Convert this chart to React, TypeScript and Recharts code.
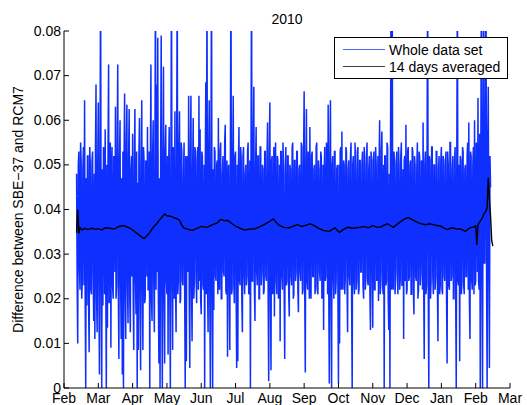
import { Legend, Line, LineChart, XAxis, YAxis } from 'recharts';

const FONT = '"Liberation Sans", Arial, Helvetica, sans-serif';
const BLUE = '#0f2fff';

// x is days after 1 Feb 2010; ticks every 30 days
const monthTicks = [0, 30, 60, 90, 120, 150, 180, 210, 240, 270, 300, 330, 360, 390];
const monthLabels = ['Feb', 'Mar', 'Apr', 'May', 'Jun', 'Jul', 'Aug', 'Sep', 'Oct', 'Nov', 'Dec', 'Jan', 'Feb', 'Mar'];
const diffTicks = [0, 0.01, 0.02, 0.03, 0.04, 0.05, 0.06, 0.07, 0.08];

const seriesNames = ['Whole data set', '14 days averaged'];

// SBE-37 minus RCM7 every half day, in thousandths, one array per tick interval
const febDiff = [48, 24, 10, 50, 53, 27, 22, 55, 51, 20, 24, 49, 54, 23, 64.5, 21, 0, 47, 18.5, 52, 52, 19, 8, 54, 50, 22, 21, 51, 53, 25, 15, 48, 11, 53, 68, 20, 12.5, 50];
const marDiff = [64, 22, 3, 51, 95, 24, 0, 49, 18.5, 54, 52, 21, 58, 25, 0, 50, 13.5, 53, 72.5, 19, 22, 55, 9, 48, 54, 23, 20, 52, 50, 26, 63, 20, 23, 54, 72.5, 22, 6.5, 51, 60, 24, 11, 47, 3, 53, 0, 50, 66, 21, 11, 55, 63.5, 23, 14.5, 52, 62.5, 20, 12.5, 49, 52, 25];
const aprDiff = [57, 21, 8.5, 50, 62.5, 24, 16.5, 53, 0, 46, 8.5, 52, 60.5, 20, 4, 49, 64.5, 23, 8.5, 54, 51, 19, 20, 51, 49, 25, 58.5, 22, 22, 53, 0, 48, 72.5, 20, 15, 52, 60, 24, 12.5, 50, 95, 22, 68, 26, 78.5, 21, 5.5, 47, 0, 51, 79, 23, 0, 49, 72, 20, 5.5, 53, 59, 24];
const mayDiff = [21, 52, 7.5, 49, 58.5, 22, 0, 51, 95, 25, 8.5, 54, 50, 20, 62, 23, 12.5, 50, 95, 21, 24, 53, 62, 19, 20, 55, 53, 24, 23, 48, 55, 22, 0, 52, 6, 50, 52, 26, 65.5, 21, 4.5, 53, 65.5, 23, 10.5, 49, 60.5, 20, 24, 54, 53, 25, 19, 51, 54, 22, 65.5, 24, 58, 20];
const junDiff = [16.5, 53, 52, 23, 22, 50, 0, 48, 68.5, 21, 95, 24, 12.5, 52, 64.5, 20, 0, 51, 95, 22, 0, 49, 17.5, 54, 53, 25, 24, 50, 51, 21, 60.5, 23, 22, 53, 55, 20, 20, 48, 52, 26, 25, 55, 59, 22, 21, 51, 7, 47, 50, 24, 8.5, 53, 95, 21, 22, 50, 65.5, 23, 19, 52];
const julDiff = [53, 22, 4.5, 50, 6, 49, 58.5, 24, 23, 54, 51, 20, 12.5, 52, 54, 25, 21, 48, 50, 23, 25, 53, 55, 21, 22, 51, 0, 50, 95, 24, 24, 55, 67.5, 22, 15, 49, 58.5, 26, 23, 52, 52, 20, 20, 54, 54, 23, 26, 50, 49, 21, 22, 53, 53, 25, 24, 51, 59.5, 22, 1.5, 52];
const augDiff = [64, 23, 4, 51, 52, 21, 23, 54, 16, 49, 55, 24, 21, 52, 51, 20, 25, 50, 10.5, 53, 53, 25, 22, 55, 50, 22, 6.5, 48, 54, 23, 24, 52, 52, 21, 16, 50, 49, 25, 23, 54, 55, 20, 21, 51, 51, 24, 26, 53, 53, 22, 17, 49, 50, 26, 24, 55, 54, 21, 22, 52];
const sepDiff = [66.5, 22, 3.5, 50, 62.5, 24, 22, 53, 51, 20, 58.5, 23, 20, 52, 53, 25, 25, 49, 50, 21, 23, 54, 55, 22, 21, 51, 49, 26, 24, 53, 52, 20, 22, 50, 13, 48, 54, 24, 25, 55, 51, 21, 63.5, 23, 1, 52, 64.5, 22, 0, 50, 52, 25, 20, 53, 53, 21, 24, 49, 50, 23];
const octDiff = [1, 50, 10, 53, 54, 22, 57.5, 24, 22, 51, 50, 21, 25, 54, 53, 23, 12.5, 49, 51, 25, 23, 52, 55, 20, 0, 50, 52, 24, 21, 55, 49, 22, 24, 53, 54, 21, 22, 51, 51, 26, 26, 50, 53, 23, 20, 54, 50, 22, 25, 52, 55, 24, 23, 49, 52, 21, 13, 53, 51, 25];
const novDiff = [13.5, 51, 53, 22, 22, 54, 50, 24, 25, 52, 19.5, 49, 60, 21, 23, 53, 57.5, 25, 21, 50, 0, 52, 52, 23, 24, 55, 54, 20, 13, 48, 0, 51, 95, 22, 95, 24, 22, 53, 51, 21, 25, 50, 53, 26, 21, 54, 50, 22, 24, 52, 55, 23, 23, 49, 11, 51, 52, 24, 59, 21];
const decDiff = [22, 53, 54, 24, 25, 50, 51, 21, 21, 54, 53, 22, 16.5, 52, 50, 25, 24, 49, 55, 20, 22, 53, 52, 23, 26, 51, 49, 22, 59.5, 24, 6.5, 50, 53, 21, 23, 55, 95, 23, 0, 52, 51, 20, 24, 54, 54, 25, 21, 50, 50, 22, 25, 53, 53, 24, 10.5, 49, 52, 21, 23, 51];
const janDiff = [54, 22, 21, 52, 51, 25, 24, 50, 53, 21, 5.5, 53, 50, 23, 22, 55, 55, 24, 25, 49, 52, 20, 20, 51, 54, 22, 0, 53, 95, 24, 23, 50, 6, 52, 51, 21, 24, 54, 53, 23, 21, 49, 50, 25, 25, 52, 55, 22, 59.5, 20, 11, 53, 52, 24, 22, 50, 54, 21, 60, 23];
const feb2Diff = [24, 55, 53, 26, 65, 24, 22, 57, 0, 53, 95, 27, 0, 56, 95, 28, 28, 58, 95, 26, 0, 55, 67.5, 27, 4.5, 52, 45];

const diffBlocks = [febDiff, marDiff, aprDiff, mayDiff, junDiff, julDiff, augDiff, sepDiff, octDiff, novDiff, decDiff, janDiff, feb2Diff];
const blockStart = [11, 30, 60, 90, 120, 150, 180, 210, 240, 270, 300, 330, 360];

// 14-day running mean, thousandths
const avgDays = [11, 12, 13, 14, 16, 18, 21, 24, 27, 30, 33, 36, 40, 44, 48, 52, 55, 58, 62, 66, 68, 70, 72, 74, 78, 81, 83, 86, 88, 90, 93, 96, 99, 101, 103, 105, 108, 112, 116, 120, 125, 130, 134, 137, 140, 143, 147, 150, 154, 158, 162, 167, 171, 175, 179, 183, 186, 188, 192, 197, 201, 204, 208, 212, 215, 219, 223, 227, 232, 235, 237, 239, 241, 244, 248, 253, 258, 263, 266, 270, 274, 277, 280, 283, 286, 288, 291, 295, 298, 301, 304, 307, 311, 316, 320, 323, 326, 329, 332, 335, 338, 340, 343, 346, 349, 351, 353, 355, 358, 360, 361, 362, 364, 366, 367, 369, 370, 371, 372, 373, 374, 375];
const avgValues = [34.8, 40.0, 34.6, 35.9, 35.4, 35.8, 35.5, 35.8, 35.6, 35.7, 35.4, 35.9, 35.8, 35.6, 36.2, 36.4, 36.1, 35.8, 35.0, 34.2, 33.8, 33.5, 34.0, 34.5, 36.0, 36.8, 37.5, 38.4, 39.0, 38.6, 38.5, 38.2, 37.9, 37.6, 36.5, 35.8, 35.6, 35.3, 35.7, 36.2, 36.0, 36.6, 37.0, 37.8, 37.5, 37.6, 36.8, 36.3, 35.8, 35.4, 35.6, 35.7, 36.1, 36.6, 37.2, 37.9, 37.0, 36.5, 36.0, 35.9, 36.3, 36.6, 36.2, 36.5, 36.8, 36.4, 35.7, 35.3, 35.1, 35.6, 35.9, 35.3, 34.9, 35.5, 36.0, 35.8, 36.0, 36.2, 35.9, 36.4, 36.0, 36.1, 36.5, 36.8, 36.3, 36.0, 36.6, 37.4, 37.9, 38.2, 37.8, 37.4, 36.9, 36.6, 36.8, 36.6, 36.4, 36.3, 35.9, 35.5, 35.8, 35.9, 35.6, 35.7, 35.4, 35.1, 35.5, 35.9, 36.1, 36.3, 32.1, 36.6, 37.4, 38.2, 38.9, 39.6, 40.5, 47.1, 42.3, 38.5, 33.0, 31.8];

const diffRows = diffBlocks.flatMap((vals, b) => vals.map((v, i) => ({ day: blockStart[b] + i / 2, diff: v / 1000 })));
const avgRows = avgDays.map((d, i) => ({ day: d, avg: avgValues[i] / 1000 }));

const txt = { fontSize: 14, fontFamily: FONT, fill: '#000' };

function MonthTick({ x, y, payload }: any) {
  return (
    <g>
      <line x1={x} y1={y} x2={x} y2={y - 5} stroke="#000" />
      <text x={x} y={y + 15} textAnchor="middle" {...txt}>
        {monthLabels[monthTicks.indexOf(payload.value)]}
      </text>
    </g>
  );
}

function DiffTick({ x, y, payload }: any) {
  return (
    <g>
      <line x1={x} y1={y} x2={x + 5} y2={y} stroke="#000" />
      <text x={x - 3} y={y + 4.5} textAnchor="end" {...txt}>
        {payload.value === 0 ? '0' : payload.value.toFixed(2)}
      </text>
    </g>
  );
}

const TopTick = ({ x, y }: any) => <line x1={x} y1={y} x2={x} y2={y + 5} stroke="#000" />;
const RightTick = ({ x, y }: any) => <line x1={x} y1={y} x2={x - 5} y2={y} stroke="#000" />;

function LegendBox({ payload }: any) {
  const items = [...(payload ?? [])].sort((a: any, b: any) => seriesNames.indexOf(a.value) - seriesNames.indexOf(b.value));
  return (
    <div style={{ border: '1px solid #000', background: '#fff', width: 172, height: 37, paddingTop: 3, boxSizing: 'content-box' }}>
      {items.map((p: any) => (
        <div key={p.value} style={{ display: 'flex', alignItems: 'center', height: 17, fontFamily: FONT, fontSize: 14, color: '#000' }}>
          <span style={{ display: 'inline-block', width: 42, height: 1, background: p.color, opacity: 0.75, marginLeft: 8, marginRight: 4 }} />
          {p.value}
        </div>
      ))}
    </div>
  );
}

export default function App() {
  return (
    <div style={{ position: 'relative', width: 527, height: 405, background: '#fff' }}>
      <style>{'body{margin:0}'}</style>
      <div style={{ position: 'absolute', left: 64, width: 446, top: 12, lineHeight: '14px', textAlign: 'center', fontFamily: FONT, fontSize: 14 }}>
        2010
      </div>
      <LineChart width={527} height={405} margin={{ top: 31, right: 17, bottom: 0, left: 0 }}>
        <XAxis dataKey="day" type="number" domain={[0, 390]} ticks={monthTicks} interval={0} height={17} tickSize={0} tickMargin={0} tick={<MonthTick />} axisLine={{ stroke: '#000' }} />
        <XAxis xAxisId="top" orientation="top" dataKey="day" type="number" domain={[0, 390]} ticks={monthTicks} interval={0} height={0} tickSize={0} tickMargin={0} tick={<TopTick />} axisLine={{ stroke: '#000' }} />
        <YAxis type="number" domain={[0, 0.08]} ticks={diffTicks} interval={0} allowDataOverflow width={64} tickSize={0} tickMargin={0} tick={<DiffTick />} axisLine={{ stroke: '#000' }}
          label={{ value: 'Difference between SBE\u221237 and RCM7', angle: -90, position: 'center', dx: -14, style: { fontSize: 14, fontFamily: FONT, fill: '#000' } }} />
        <YAxis yAxisId="right" orientation="right" type="number" domain={[0, 0.08]} ticks={diffTicks} interval={0} allowDataOverflow width={0} tickSize={0} tickMargin={0} tick={<RightTick />} axisLine={{ stroke: '#000' }} />
        <Legend layout="vertical" align="center" verticalAlign="middle" content={<LegendBox />} wrapperStyle={{ left: 334, top: 37, width: 174, height: 42 }} />
        <Line data={diffRows} dataKey="diff" name={seriesNames[0]} stroke={BLUE} strokeWidth={1.5} dot={false} isAnimationActive={false} />
        <Line data={avgRows} dataKey="avg" name={seriesNames[1]} stroke="#000" strokeWidth={1.4} dot={false} isAnimationActive={false} />
      </LineChart>
    </div>
  );
}
